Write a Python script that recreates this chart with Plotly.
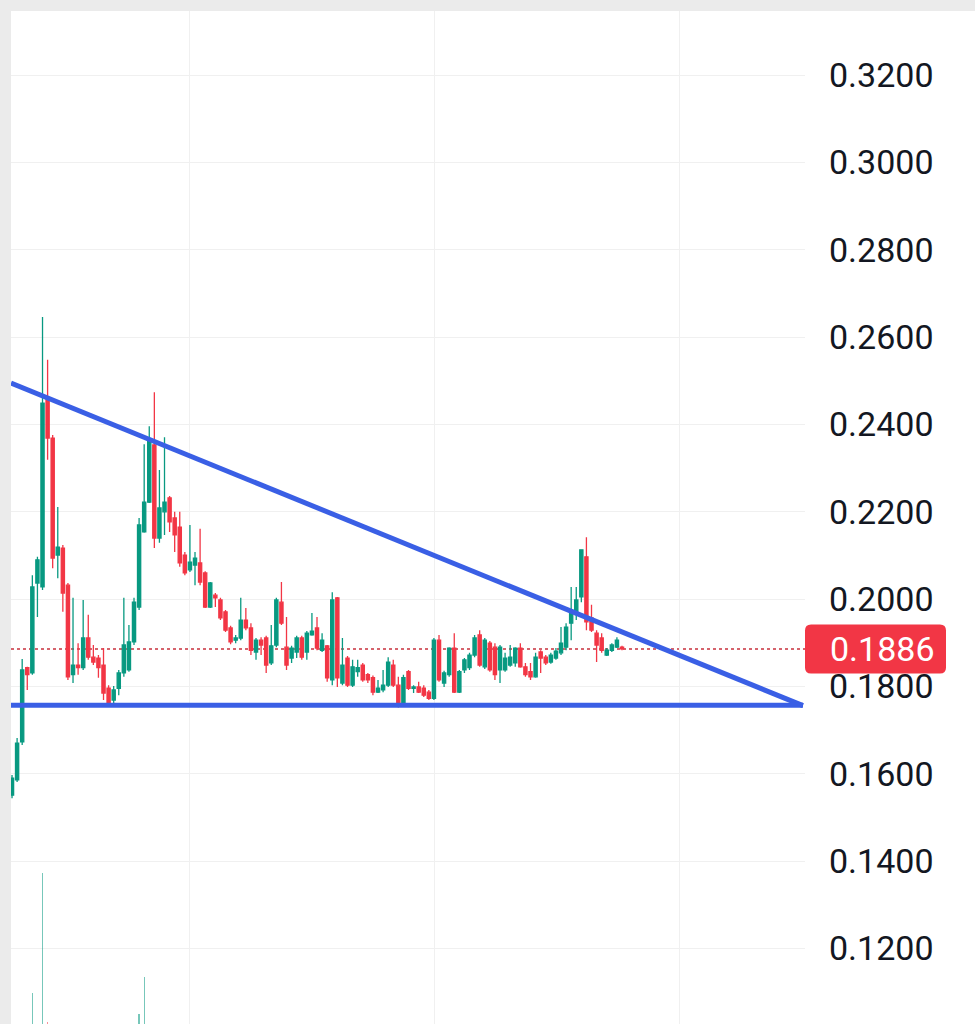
import plotly.graph_objects as go

# ---------------- data ----------------
open_ = [0.1551, 0.1586, 0.1673, 0.1843, 0.1831, 0.2037, 0.2028, 0.2461, 0.2369, 0.2101,
         0.2117, 0.2032, 0.1827, 0.1849, 0.1843, 0.1911, 0.1867, 0.1865, 0.1849, 0.1796,
         0.1769, 0.1796, 0.1831, 0.1838, 0.1902, 0.1982, 0.2154, 0.2222, 0.2353, 0.2140,
         0.2200, 0.2232, 0.2186, 0.2165, 0.2101, 0.2067, 0.2078, 0.2083, 0.2060, 0.1982,
         0.2009, 0.1998, 0.1971, 0.1934, 0.1906, 0.1911, 0.1952, 0.1934, 0.1879, 0.1906,
         0.1911, 0.1854, 0.1895, 0.1993, 0.1890, 0.1865, 0.1879, 0.1911, 0.1879, 0.1918,
         0.1934, 0.1883, 0.1893, 0.1815, 0.2003, 0.1808, 0.1865, 0.1803, 0.1834, 0.1849,
         0.1827, 0.1820, 0.1787, 0.1792, 0.1803, 0.1849, 0.1803, 0.1762, 0.1834, 0.1796,
         0.1799, 0.1796, 0.1787, 0.1773, 0.1906, 0.1808, 0.1827, 0.1888, 0.1787, 0.1838,
         0.1843, 0.1872, 0.1918, 0.1845, 0.1899, 0.1890, 0.1838, 0.1838, 0.1849, 0.1854,
         0.1888, 0.1845, 0.1834, 0.1822, 0.1879, 0.1867, 0.1856, 0.1865, 0.1877, 0.1890,
         0.1945, 0.1968, 0.2005, 0.2097, 0.1957, 0.1922, 0.1911, 0.1872, 0.1883, 0.1890, 0.1890]
high = [0.1597, 0.1682, 0.1863, 0.1845, 0.2055, 0.2097, 0.2646, 0.2548, 0.2376, 0.2211,
        0.2124, 0.2037, 0.2003, 0.1899, 0.1998, 0.1964, 0.1895, 0.1872, 0.1888, 0.1803,
        0.1801, 0.1838, 0.2003, 0.1941, 0.2003, 0.2186, 0.2355, 0.2396, 0.2474, 0.2296,
        0.2371, 0.2236, 0.2200, 0.2200, 0.2108, 0.2170, 0.2108, 0.2161, 0.2064, 0.2039,
        0.2014, 0.2003, 0.1975, 0.1939, 0.1918, 0.2003, 0.1980, 0.1945, 0.1911, 0.1913,
        0.1916, 0.1941, 0.2003, 0.2039, 0.1959, 0.1893, 0.1916, 0.1916, 0.1927, 0.1968,
        0.1959, 0.1922, 0.1895, 0.2016, 0.2005, 0.1911, 0.1870, 0.1861, 0.1861, 0.1854,
        0.1831, 0.1825, 0.1815, 0.1838, 0.1867, 0.1861, 0.1822, 0.1827, 0.1838, 0.1803,
        0.1811, 0.1803, 0.1792, 0.1911, 0.1918, 0.1836, 0.1890, 0.1922, 0.1838, 0.1865,
        0.1877, 0.1918, 0.1929, 0.1911, 0.1904, 0.1899, 0.1895, 0.1877, 0.1895, 0.1890,
        0.1899, 0.1854, 0.1854, 0.1877, 0.1883, 0.1872, 0.1877, 0.1888, 0.1936, 0.1945,
        0.2028, 0.2028, 0.2113, 0.2142, 0.1987, 0.1929, 0.1922, 0.1888, 0.1899, 0.1913, 0.1893]
low = [0.1544, 0.1581, 0.1666, 0.1792, 0.1827, 0.1959, 0.2021, 0.2319, 0.2071, 0.2048,
       0.1971, 0.1815, 0.1808, 0.1827, 0.1838, 0.1861, 0.1849, 0.1820, 0.1769, 0.1755,
       0.1760, 0.1780, 0.1822, 0.1834, 0.1895, 0.1975, 0.2152, 0.2220, 0.2117, 0.2129,
       0.2147, 0.2154, 0.2108, 0.2074, 0.2055, 0.2062, 0.2032, 0.2032, 0.1980, 0.1980,
       0.1982, 0.1952, 0.1925, 0.1897, 0.1899, 0.1906, 0.1929, 0.1872, 0.1861, 0.1872,
       0.1831, 0.1849, 0.1890, 0.1941, 0.1838, 0.1854, 0.1865, 0.1861, 0.1861, 0.1916,
       0.1883, 0.1879, 0.1811, 0.1803, 0.1799, 0.1803, 0.1799, 0.1799, 0.1822, 0.1811,
       0.1808, 0.1780, 0.1785, 0.1787, 0.1799, 0.1799, 0.1752, 0.1757, 0.1792, 0.1785,
       0.1785, 0.1776, 0.1769, 0.1769, 0.1811, 0.1799, 0.1822, 0.1785, 0.1785, 0.1831,
       0.1838, 0.1867, 0.1845, 0.1840, 0.1834, 0.1815, 0.1808, 0.1834, 0.1845, 0.1845,
       0.1843, 0.1822, 0.1815, 0.1820, 0.1831, 0.1849, 0.1852, 0.1861, 0.1872, 0.1883,
       0.1906, 0.1952, 0.1993, 0.1929, 0.1925, 0.1856, 0.1877, 0.1870, 0.1879, 0.1888, 0.1883]
close = [0.1590, 0.1670, 0.1838, 0.1827, 0.2028, 0.2090, 0.2449, 0.2369, 0.2094, 0.2119,
         0.2014, 0.1822, 0.1849, 0.1843, 0.1911, 0.1867, 0.1856, 0.1843, 0.1785, 0.1762,
         0.1792, 0.1831, 0.1895, 0.1902, 0.1993, 0.2170, 0.2222, 0.2364, 0.2140, 0.2209,
         0.2222, 0.2177, 0.2147, 0.2083, 0.2060, 0.2085, 0.2094, 0.2039, 0.1982, 0.2037,
         0.2003, 0.1957, 0.1929, 0.1902, 0.1911, 0.1952, 0.1934, 0.1883, 0.1906, 0.1895,
         0.1849, 0.1893, 0.1998, 0.1945, 0.1849, 0.1888, 0.1911, 0.1867, 0.1922, 0.1927,
         0.1888, 0.1906, 0.1820, 0.1998, 0.1820, 0.1849, 0.1803, 0.1845, 0.1843, 0.1815,
         0.1815, 0.1787, 0.1796, 0.1803, 0.1856, 0.1803, 0.1757, 0.1820, 0.1796, 0.1799,
         0.1787, 0.1780, 0.1773, 0.1906, 0.1815, 0.1831, 0.1888, 0.1787, 0.1834, 0.1861,
         0.1872, 0.1911, 0.1849, 0.1906, 0.1838, 0.1827, 0.1890, 0.1865, 0.1867, 0.1888,
         0.1845, 0.1827, 0.1822, 0.1867, 0.1865, 0.1854, 0.1872, 0.1881, 0.1899, 0.1936,
         0.1975, 0.1998, 0.2113, 0.1948, 0.1929, 0.1895, 0.1883, 0.1883, 0.1895, 0.1906, 0.1886]
volume = [2.1, 2.4, 2.8, 1.6, 6.1, 2.9, 18.1, 3.2, 2.7, 1.2,
          1.4, 2.0, 1.1, 0.8, 1.0, 0.7, 0.5, 0.6, 0.9, 1.1,
          0.7, 0.8, 1.3, 1.0, 1.6, 4.0, 7.7, 2.6, 2.9, 1.5,
          1.2, 0.9, 0.8, 1.0, 0.7, 0.6, 0.5, 0.8, 0.9, 0.6,
          0.4, 0.6, 0.7, 0.5, 0.3, 0.6, 0.4, 0.6, 0.4, 0.3,
          0.6, 0.5, 0.8, 0.7, 0.6, 0.3, 0.4, 0.4, 0.4, 0.3,
          0.5, 0.3, 0.6, 1.1, 1.0, 0.5, 0.5, 0.4, 0.2, 0.3,
          0.2, 0.4, 0.2, 0.3, 0.5, 0.4, 0.6, 0.5, 0.4, 0.2,
          0.2, 0.2, 0.3, 1.0, 0.9, 0.3, 0.5, 0.7, 0.4, 0.3,
          0.3, 0.4, 0.5, 0.4, 0.4, 0.4, 0.4, 0.3, 0.2, 0.3,
          0.3, 0.2, 0.2, 0.3, 0.2, 0.2, 0.2, 0.2, 0.4, 0.5,
          0.8, 0.7, 1.6, 1.8, 0.7, 0.5, 0.4, 0.2, 0.2, 0.2, 0.1]

last_price = 0.1886
y_ticks = [0.12, 0.14, 0.16, 0.18, 0.20, 0.22, 0.24, 0.26, 0.28, 0.30, 0.32]

# trend lines drawn on the chart (bar index, price)
upper_trend_x = [-0.2, 155.6]
upper_trend_y = [0.2495, 0.1756]
lower_trend_x = [-0.2, 155.6]
lower_trend_y = [0.1757, 0.1757]

# ---------------- figure ----------------
GREEN = "#089981"
RED = "#f23645"
BLUE = "#3a5fe5"
GRID = "#f0f0f0"

x = list(range(len(close)))
vol_colors = ["rgba(8,153,129,0.55)" if c >= o else "rgba(242,54,69,0.55)"
              for o, c in zip(open_, close)]

fig = go.Figure()
fig.add_trace(go.Bar(x=x, y=volume, yaxis="y2", marker_color=vol_colors,
                     marker_line_width=0, width=0.25, showlegend=False,
                     hoverinfo="skip"))
fig.add_trace(go.Candlestick(
    x=x, open=open_, high=high, low=low, close=close,
    increasing=dict(line=dict(color=GREEN, width=1.3), fillcolor=GREEN),
    decreasing=dict(line=dict(color=RED, width=1.3), fillcolor=RED),
    whiskerwidth=0, showlegend=False))
fig.add_trace(go.Scatter(x=upper_trend_x, y=upper_trend_y, mode="lines",
                         line=dict(color=BLUE, width=5), showlegend=False,
                         hoverinfo="skip"))
fig.add_trace(go.Scatter(x=lower_trend_x, y=lower_trend_y, mode="lines",
                         line=dict(color=BLUE, width=5), showlegend=False,
                         hoverinfo="skip"))

W, H = 975, 1024
ML, MR, MT, MB = 11, 170, 11, 0
pw, ph = W - ML - MR, H - MT - MB

y_lo, y_hi = 0.1027, 0.3347
px_per_unit = ph / (y_hi - y_lo)

# last price dotted line
fig.add_shape(type="line", xref="paper", yref="y", x0=0, x1=1,
              y0=last_price, y1=last_price,
              line=dict(color="#c8303c", width=1.5, dash="dot"), layer="below")

# last price label (rounded box)
bx0, bx1 = 1.0, (946 - ML) / pw
half_h = 24.5 / px_per_unit
by0, by1 = last_price - half_h, last_price + half_h
rx, ry = 6 / pw, 6 / px_per_unit
path = (f"M {bx0+rx},{by1} L {bx1-rx},{by1} Q {bx1},{by1} {bx1},{by1-ry} "
        f"L {bx1},{by0+ry} Q {bx1},{by0} {bx1-rx},{by0} L {bx0+rx},{by0} "
        f"Q {bx0},{by0} {bx0},{by0+ry} L {bx0},{by1-ry} Q {bx0},{by1} {bx0+rx},{by1} Z")
fig.add_shape(type="path", xref="paper", yref="y", path=path,
              fillcolor=RED, line=dict(width=0), layer="above")
fig.add_annotation(xref="paper", yref="y", x=1 + 23 / pw, y=last_price,
                   xanchor="left", yanchor="middle", showarrow=False,
                   text=f"{last_price:.4f}",
                   font=dict(family="Roboto", size=34, color="white"))

# grey frame on the top and left
fig.add_shape(type="rect", xref="paper", yref="paper", x0=-ML / pw, x1=0,
              y0=0, y1=1 + MT / ph, fillcolor="#ebebeb", line=dict(width=0),
              layer="below")
fig.add_shape(type="rect", xref="paper", yref="paper", x0=-ML / pw,
              x1=1 + MR / pw, y0=1, y1=1 + MT / ph, fillcolor="#ebebeb",
              line=dict(width=0), layer="below")

fig.update_layout(
    width=W, height=H,
    margin=dict(l=ML, r=MR, t=MT, b=MB),
    paper_bgcolor="white", plot_bgcolor="white",
    showlegend=False, bargap=0, boxgap=0.1,
    xaxis=dict(range=[-0.2, 156.0], showticklabels=False, ticks="",
               tickvals=[35, 83.2, 131.4], showgrid=True, gridcolor=GRID,
               gridwidth=1, zeroline=False, showline=False,
               rangeslider=dict(visible=False), fixedrange=True),
    yaxis=dict(range=[y_lo, y_hi], side="right", tickvals=y_ticks,
               tickformat=".4f", showgrid=True, gridcolor=GRID, gridwidth=1,
               zeroline=False, showline=False, ticks="",
               ticklabelstandoff=23,
               tickfont=dict(family="Roboto", size=34, color="#131722")),
    yaxis2=dict(overlaying="y", range=[3.0, 104.3], visible=False),
)

fig.write_html("out.html")
